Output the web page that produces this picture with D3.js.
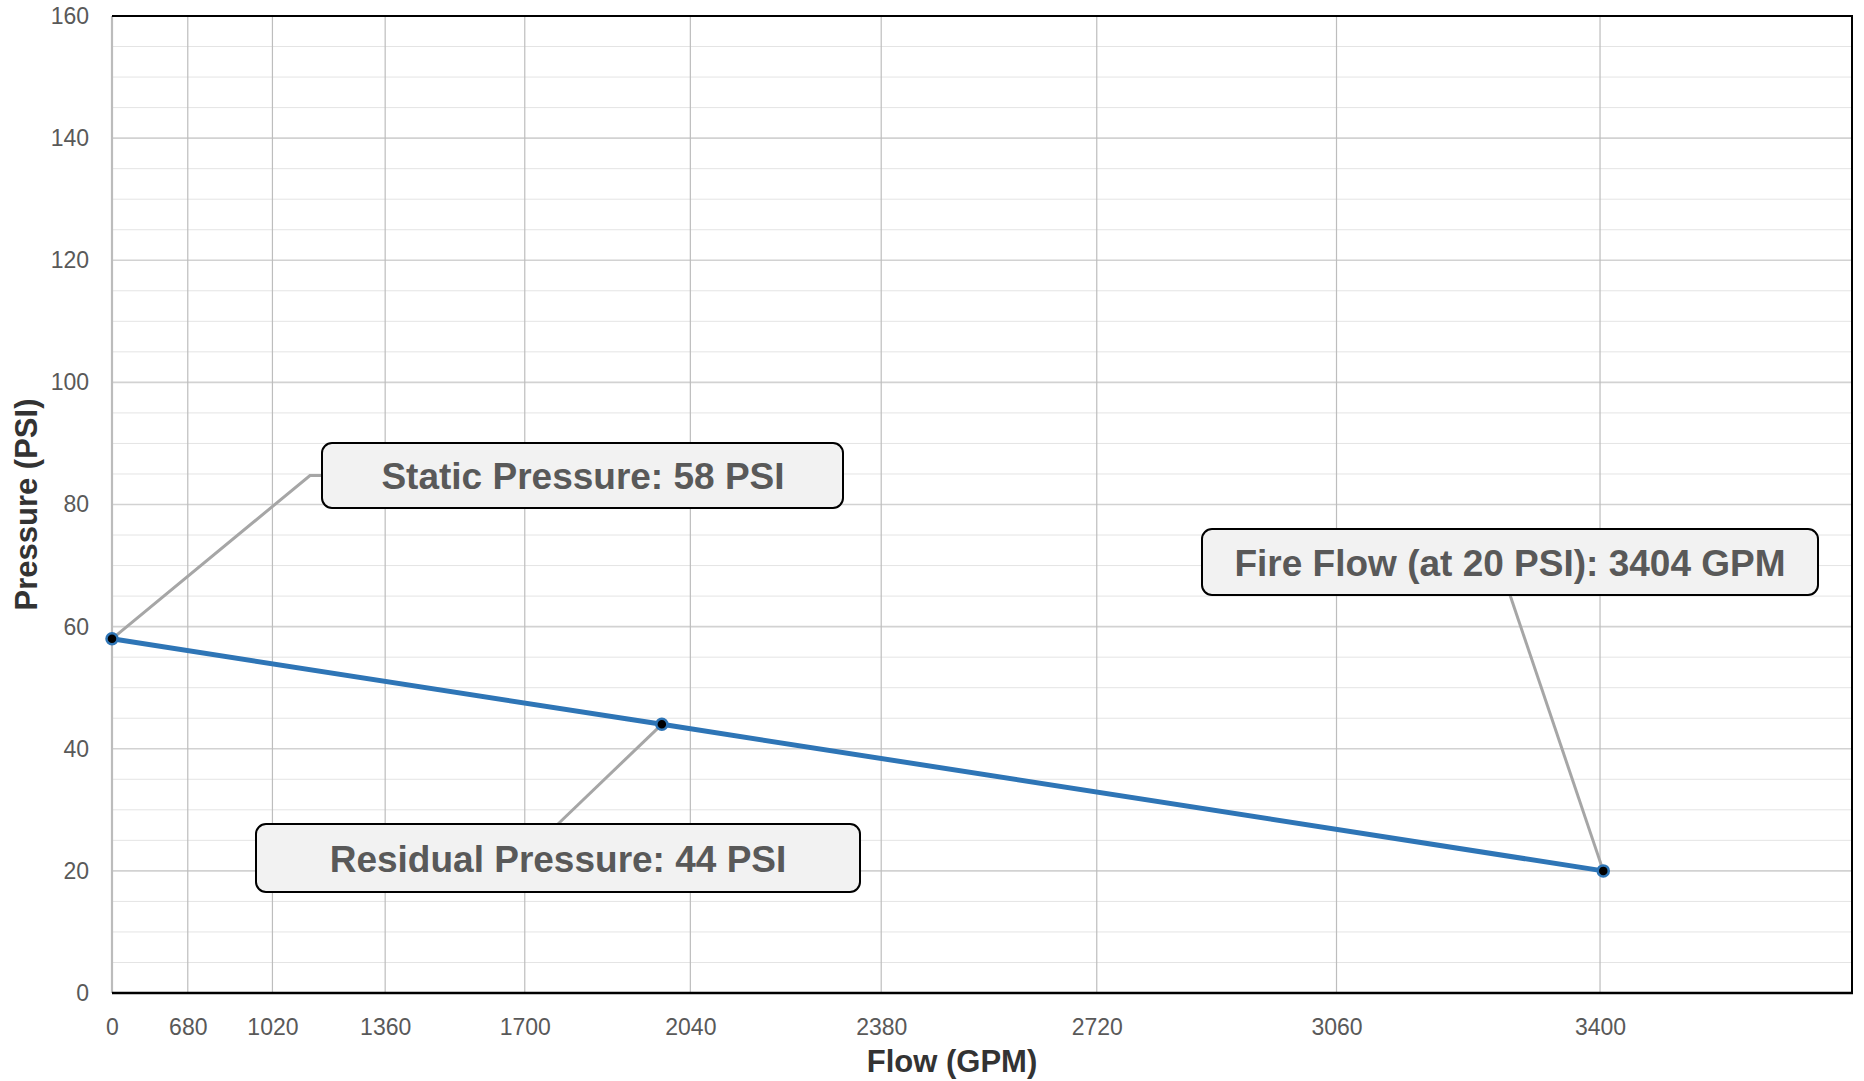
<!DOCTYPE html>
<html>
<head>
<meta charset="utf-8">
<script src="https://cdn.jsdelivr.net/npm/d3@7"></script>
<style>
  html, body { margin: 0; padding: 0; background: #fff; }
  svg { display: block; }
</style>
</head>
<body>
<svg id="chart" width="1864" height="1081"></svg>
<script>
// ---- data ----
const flowTicks = [0, 680, 1020, 1360, 1700, 2040, 2380, 2720, 3060, 3400];
const pressureTicks = [0, 20, 40, 60, 80, 100, 120, 140, 160];
const minorPressureTicks = d3.range(5, 160, 5).filter(v => v % 20 !== 0);
const pointFlows = [0, 1985, 3404];
const pointPressures = [58, 44, 20];
const calloutTexts = ["Static Pressure: 58 PSI", "Residual Pressure: 44 PSI", "Fire Flow (at 20 PSI): 3404 GPM"];
const xTitle = "Flow (GPM)";
const yTitle = "Pressure (PSI)";

// ---- layout ----
const L = 112, R = 1852, T = 16, B = 993;
const svg = d3.select("#chart");
const x = d3.scalePow().exponent(1.85).domain([0, 3700]).range([L, R]);
const y = d3.scaleLinear().domain([0, 160]).range([B, T]);

// minor horizontal grid
svg.append("g").selectAll("line").data(minorPressureTicks).join("line")
  .attr("x1", L).attr("x2", R).attr("y1", d => y(d)).attr("y2", d => y(d))
  .attr("stroke", "#e4e4e4").attr("stroke-width", 1);
// major horizontal grid
svg.append("g").selectAll("line").data(pressureTicks.filter(d => d > 0 && d < 160)).join("line")
  .attr("x1", L).attr("x2", R).attr("y1", d => y(d)).attr("y2", d => y(d))
  .attr("stroke", "#d2d2d2").attr("stroke-width", 1.6);
// vertical grid
svg.append("g").selectAll("line").data(flowTicks.filter(d => d > 0)).join("line")
  .attr("x1", d => x(d)).attr("x2", d => x(d)).attr("y1", T).attr("y2", B)
  .attr("stroke", "#bdbdbd").attr("stroke-width", 1.2);

// borders
svg.append("line").attr("x1", L).attr("x2", L).attr("y1", T).attr("y2", B)
  .attr("stroke", "#bcbcbc").attr("stroke-width", 2.2);
svg.append("line").attr("x1", L).attr("x2", R + 1).attr("y1", T).attr("y2", T)
  .attr("stroke", "#000").attr("stroke-width", 2);
svg.append("line").attr("x1", R).attr("x2", R).attr("y1", T).attr("y2", B)
  .attr("stroke", "#000").attr("stroke-width", 2);
svg.append("line").attr("x1", L).attr("x2", R + 1).attr("y1", B).attr("y2", B)
  .attr("stroke", "#000").attr("stroke-width", 2.6);

// axes (labels only)
const fontTick = "'Liberation Sans', Arial, sans-serif";
const yAxis = svg.append("g").attr("transform", `translate(${L - 23},0)`)
  .call(d3.axisLeft(y).tickValues(pressureTicks).tickSize(0).tickPadding(0));
yAxis.select(".domain").remove();
yAxis.selectAll("text").attr("font-family", fontTick).attr("font-size", 23)
  .attr("fill", "#595959");

const xAxis = svg.append("g").attr("transform", `translate(0,${B + 26})`)
  .call(d3.axisBottom(x).tickValues(flowTicks).tickSize(0).tickPadding(0).tickFormat(d3.format("d")));
xAxis.select(".domain").remove();
xAxis.selectAll("text").attr("font-family", fontTick).attr("font-size", 23)
  .attr("fill", "#595959");

// titles
svg.append("text").attr("x", 952).attr("y", 1072)
  .attr("text-anchor", "middle").attr("font-family", "'Liberation Sans', Arial, sans-serif")
  .attr("font-weight", "bold").attr("font-size", 31).attr("fill", "#333").text(xTitle);
svg.append("text").attr("transform", `translate(37,${(T + B) / 2}) rotate(-90)`)
  .attr("text-anchor", "middle").attr("font-family", "'Liberation Sans', Arial, sans-serif")
  .attr("font-weight", "bold").attr("font-size", 31).attr("fill", "#333").text(yTitle);

// data
const pts = pointFlows.map((f, i) => ({ f, p: pointPressures[i], label: calloutTexts[i] }));

// callout boxes (layout: box rectangles in px)
const boxes = [
  { x0: 322, x1: 843, y0: 443, y1: 508, tx: 583, ty: 489 },
  { x0: 256, x1: 860, y0: 824, y1: 892, tx: 558, ty: 872 },
  { x0: 1202, x1: 1818, y0: 529, y1: 595, tx: 1510, ty: 576 }
];

// leader lines
const leaderG = svg.append("g");
leaderG.append("path")
  .attr("d", d3.line()([[x(pts[0].f), y(pts[0].p)], [310, (boxes[0].y0 + boxes[0].y1) / 2], [boxes[0].x0, (boxes[0].y0 + boxes[0].y1) / 2]]))
  .attr("fill", "none").attr("stroke", "#a6a6a6").attr("stroke-width", 3);
leaderG.append("path")
  .attr("d", d3.line()([[x(pts[1].f), y(pts[1].p)], [558, boxes[1].y0]]))
  .attr("fill", "none").attr("stroke", "#a6a6a6").attr("stroke-width", 3);
leaderG.append("path")
  .attr("d", d3.line()([[x(pts[2].f), y(pts[2].p)], [1510, boxes[2].y1]]))
  .attr("fill", "none").attr("stroke", "#a6a6a6").attr("stroke-width", 3);

// line
svg.append("path").datum(pts)
  .attr("d", d3.line().x(d => x(d.f)).y(d => y(d.p)))
  .attr("fill", "none").attr("stroke", "#2e75b6").attr("stroke-width", 5);

// markers
svg.append("g").selectAll("circle").data(pts).join("circle")
  .attr("cx", d => x(d.f)).attr("cy", d => y(d.p)).attr("r", 5.5)
  .attr("fill", "#000").attr("stroke", "#2e75b6").attr("stroke-width", 2.5);

// boxes
const bg = svg.append("g").selectAll("g").data(boxes).join("g");
bg.append("rect")
  .attr("x", d => d.x0).attr("y", d => d.y0)
  .attr("width", d => d.x1 - d.x0).attr("height", d => d.y1 - d.y0)
  .attr("rx", 10).attr("ry", 10)
  .attr("fill", "#f2f2f2").attr("stroke", "#000").attr("stroke-width", 2);
bg.append("text")
  .attr("x", d => d.tx).attr("y", d => d.ty)
  .attr("text-anchor", "middle").attr("font-family", "'Liberation Sans', Arial, sans-serif")
  .attr("font-weight", "bold").attr("font-size", 37).attr("fill", "#595959")
  .text((d, i) => calloutTexts[i]);
</script>
</body>
</html>
